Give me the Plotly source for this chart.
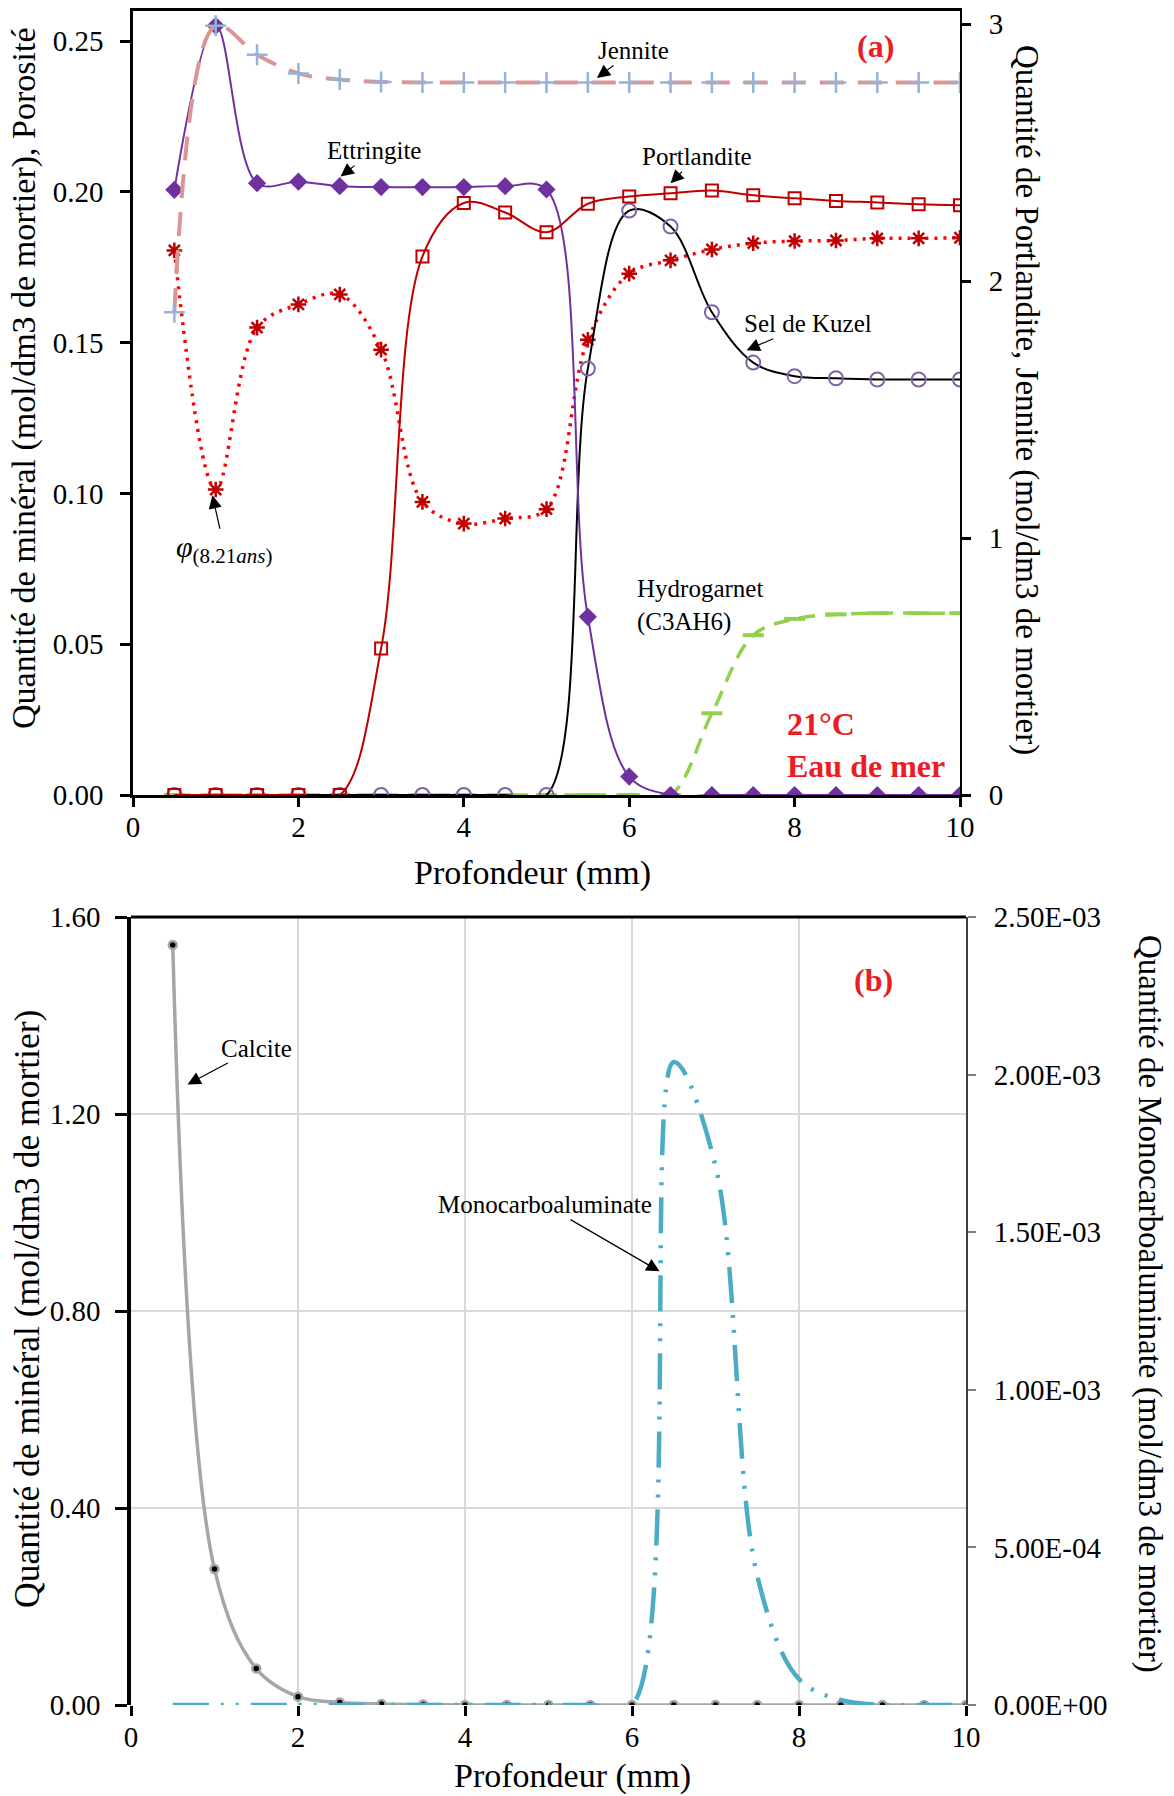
import plotly.graph_objects as go

# ---------------- data ----------------
depth = [0.5, 1.0, 1.5, 2.0, 2.5, 3.0, 3.5, 4.0, 4.5, 5.0,
         5.5, 6.0, 6.5, 7.0, 7.5, 8.0, 8.5, 9.0, 9.5, 10.0]

# panel (a) - left axis (mol/dm3 de mortier / porosité)
ettringite = [0.2007, 0.2551, 0.2029, 0.2034, 0.2019, 0.2016, 0.2016, 0.2016, 0.2019, 0.2008,
              0.0591, 0.0061, 0.0, 0.0, 0.0, 0.0, 0.0, 0.0, 0.0, 0.0]
porosite = [0.1806, 0.1013, 0.1550, 0.1627, 0.1660, 0.1477, 0.0972, 0.0900, 0.0917, 0.0948,
            0.1510, 0.1729, 0.1773, 0.1809, 0.1830, 0.1837, 0.1839, 0.1846, 0.1846, 0.1848]
kuzel = [0.0, 0.0, 0.0, 0.0, 0.0, 0.0, 0.0, 0.0, 0.0, 0.0,
         0.1414, 0.1938, 0.1885, 0.1601, 0.1434, 0.1389, 0.1382, 0.1378, 0.1378, 0.1378]
hydrogarnet = [0.0, 0.0, 0.0, 0.0, 0.0, 0.0, 0.0, 0.0, 0.0, 0.0,
               0.0, 0.0, 0.0, 0.0271, 0.0530, 0.0584, 0.0599, 0.0603, 0.0603, 0.0603]

# panel (a) - right axis (Portlandite, Jennite)
portlandite = [0.0, 0.0, 0.0, 0.0, 0.0, 0.570, 2.096, 2.304, 2.267, 2.190,
               2.301, 2.329, 2.342, 2.352, 2.334, 2.322, 2.312, 2.306, 2.299, 2.295]
jennite = [1.879, 2.994, 2.881, 2.808, 2.784, 2.775, 2.773, 2.773, 2.773, 2.773,
           2.773, 2.773, 2.773, 2.773, 2.773, 2.773, 2.773, 2.773, 2.773, 2.773]

# panel (b)
calcite = [1.543, 0.276, 0.074, 0.017, 0.005, 0.002, 0.001, 0.0, 0.0, 0.0,
           0.0, 0.0, 0.0, 0.0, 0.0, 0.0, 0.0, 0.0, 0.0, 0.0]
monocarbo = [0.0, 0.0, 0.0, 0.0, 0.0, 0.0, 0.0, 0.0, 0.0, 0.0,
             0.0, 0.0, 2.04e-3, 1.71e-3, 4.1e-4, 8.2e-5, 1.6e-5, 0.0, 0.0, 0.0]

x_ticks = [0, 2, 4, 6, 8, 10]
mono_tickvals = [0.0, 5.0e-4, 1.0e-3, 1.5e-3, 2.0e-3, 2.5e-3]
mono_ticktext = ["0.00E+00", "5.00E-04", "1.00E-03", "1.50E-03", "2.00E-03", "2.50E-03"]

# ---------------- figure ----------------
W, H = 1174, 1796
FONT = "Liberation Serif"
RED = "#EC1C24"

def px_x(p):
    return p / W

def px_y(p):
    return 1 - p / H

fig = go.Figure()

# ---- panel (a) left axis traces
fig.add_trace(go.Scatter(
    x=depth, y=hydrogarnet, xaxis="x", yaxis="y", mode="lines+markers", name="Hydrogarnet",
    line=dict(color="#92D050", width=3.5, dash="16px,10px", shape="spline"),
    marker=dict(symbol="line-ew-open", size=15, color="#92D050", line=dict(width=4, color="#92D050"))))
fig.add_trace(go.Scatter(
    x=depth, y=porosite, xaxis="x", yaxis="y", mode="lines+markers", name="Porosité",
    line=dict(color="#FF0000", width=3.5, dash="3px,6px", shape="spline"),
    marker=dict(symbol="asterisk-open", size=13, color="#C00000", line=dict(width=2.5, color="#C00000"))))
fig.add_trace(go.Scatter(
    x=depth, y=kuzel, xaxis="x", yaxis="y", mode="lines+markers", name="Sel de Kuzel",
    line=dict(color="black", width=2, shape="spline"),
    marker=dict(symbol="circle-open", size=14, color="#8064A2", line=dict(width=2, color="#8064A2"))))
fig.add_trace(go.Scatter(
    x=depth, y=ettringite, xaxis="x", yaxis="y", mode="lines+markers", name="Ettringite",
    line=dict(color="#7030A0", width=2, shape="spline"),
    marker=dict(symbol="diamond", size=14, color="#7030A0")))

# ---- panel (a) right axis traces
fig.add_trace(go.Scatter(
    x=depth, y=portlandite, xaxis="x", yaxis="y2", mode="lines+markers", name="Portlandite",
    line=dict(color="#C00000", width=2, shape="spline"),
    marker=dict(symbol="square-open", size=12, color="#C00000", line=dict(width=2, color="#C00000"))))
fig.add_trace(go.Scatter(
    x=depth, y=jennite, xaxis="x", yaxis="y2", mode="lines+markers", name="Jennite",
    line=dict(color="#D99694", width=4, dash="24px,14px", shape="spline"),
    marker=dict(symbol="cross-thin-open", size=15, color="#95B3D7", line=dict(width=2.5, color="#95B3D7"))))

# ---- panel (b)
fig.add_trace(go.Scatter(
    x=depth, y=calcite, xaxis="x2", yaxis="y3", mode="lines+markers", name="Calcite",
    line=dict(color="#A6A6A6", width=3.5, shape="spline"),
    marker=dict(symbol="circle", size=8, color="black", line=dict(width=2.5, color="#A6A6A6"))))
fig.add_trace(go.Scatter(
    x=depth, y=monocarbo, xaxis="x2", yaxis="y4", mode="lines", name="Monocarboaluminate",
    line=dict(color="#4BACC6", width=4.5, dash="36px,12px,3px,12px,3px,12px", shape="spline")))

tickfont = dict(family=FONT, size=29, color="black")

common = dict(automargin=False, zeroline=False, tickfont=tickfont)

fig.update_layout(
    width=W, height=H,
    margin=dict(l=0, r=0, t=0, b=0, autoexpand=False),
    paper_bgcolor="white", plot_bgcolor="rgba(0,0,0,0)",
    showlegend=False,
    font=dict(family=FONT, color="black"),
    xaxis=dict(domain=[px_x(133), px_x(960)], anchor="y", range=[0, 10], tickvals=x_ticks,
               showline=True, linecolor="black", linewidth=2.5, mirror=True,
               ticks="outside", ticklen=9, tickwidth=2.5, tickcolor="black",
               showgrid=False, ticklabelstandoff=-5, **common),
    yaxis=dict(domain=[px_y(795), px_y(11)], anchor="x", range=[0, 0.26], dtick=0.05, tickformat=".2f",
               showline=True, linecolor="black", linewidth=2.5,
               ticks="outside", ticklen=10, tickwidth=2.5, tickcolor="black",
               showgrid=False, ticklabelstandoff=11, **common),
    yaxis2=dict(overlaying="y", side="right", anchor="x", range=[0, 3.051], dtick=1,
                showline=True, linecolor="black", linewidth=2,
                ticks="outside", ticklen=9, tickwidth=2.5, tickcolor="black",
                showgrid=False, ticklabelstandoff=12, **common),
    xaxis2=dict(domain=[px_x(131), px_x(966)], anchor="y3", range=[0, 10], tickvals=x_ticks,
                showline=False, ticks="outside", ticklen=10, tickwidth=2.5, tickcolor="black",
                showgrid=True, gridcolor="#D9D9D9", gridwidth=1.5,
                ticklabelstandoff=-4, **common),
    yaxis3=dict(domain=[px_y(1705), px_y(917)], anchor="x2", range=[0, 1.6], dtick=0.4, tickformat=".2f",
                showline=True, linecolor="black", linewidth=3.5,
                ticks="outside", ticklen=12, tickwidth=2.5, tickcolor="black",
                showgrid=True, gridcolor="#D9D9D9", gridwidth=1.5,
                ticklabelstandoff=9, **common),
    yaxis4=dict(overlaying="y3", side="right", anchor="x2", range=[0, 2.5e-3],
                tickvals=mono_tickvals, ticktext=mono_ticktext,
                showline=True, linecolor="#404040", linewidth=2,
                ticks="outside", ticklen=8, tickwidth=1.5, tickcolor="#808080",
                showgrid=False, ticklabelstandoff=12, **common),
)

# top frame of panel (b)
fig.add_shape(type="line", xref="x2 domain", yref="y3 domain", x0=0, x1=1, y0=1, y1=1,
              line=dict(color="black", width=3))

lab_font = dict(family=FONT, size=25, color="black")
red_font = dict(family=FONT, size=32, color=RED)

def title(text, px, py, angle=0, size=34):
    return dict(text=text, xref="paper", yref="paper", x=px_x(px), y=px_y(py),
                xanchor="center", yanchor="middle", textangle=angle, showarrow=False,
                font=dict(family=FONT, size=size, color="black"))

ann = []
ann.append(title("Quantité de minéral (mol/dm3 de mortier), Porosité", 24, 378, -90, 34))
ann.append(title("Quantité de Portlandite, Jennite (mol/dm3 de mortier)", 1027, 400, 90, 33))
ann.append(title("Profondeur (mm)", 532, 873))
ann.append(title("Quantité de minéral (mol/dm3 de mortier)", 27, 1309, -90, 35.5))
ann.append(title("Quantité de Monocarboaluminate (mol/dm3 de mortier)", 1150, 1304, 90, 33))
ann.append(title("Profondeur (mm)", 572, 1776))

arrow = dict(showarrow=True, arrowhead=2, arrowsize=2.2, arrowwidth=1.2, arrowcolor="black")

def lab(text, x, y, hx, hy, xr="x", yr="y", **kw):
    d = dict(text=text, x=hx, y=hy, ax=x, ay=y, xref=xr, yref=yr, axref=xr, ayref=yr, font=lab_font)
    d.update(arrow)
    d.update(kw)
    return d

ann.append(lab("Jennite", 6.05, 0.2469, 5.61, 0.2378))
ann.append(lab("Ettringite", 2.91, 0.2137, 2.51, 0.2051))
ann.append(lab("Portlandite", 6.82, 0.2117, 6.50, 0.2029))
ann.append(lab("Sel de Kuzel", 8.16, 0.1563, 7.42, 0.1475))
ann.append(lab("Hydrogarnet<br>(C3AH6)", 6.86, 0.0628, 7.49, 0.0547, align="left"))
ann.append(lab("<i>φ</i><sub>(8.21<i>ans</i>)</sub>", 1.106, 0.0815, 0.96, 0.0994,
               font=dict(family=FONT, size=30, color="black")))
ann.append(dict(text="<b>(a)</b>", x=8.98, y=0.2485, xref="x", yref="y", showarrow=False,
                xanchor="center", yanchor="middle", font=red_font))
ann.append(dict(text="<b>21°C<br>Eau de mer</b>", x=8.86, y=0.0166, xref="x", yref="y", showarrow=False,
                xanchor="center", yanchor="middle", align="left", font=red_font))

ann.append(lab("Calcite", 1.497, 1.334, 0.677, 1.260, xr="x2", yr="y3"))
ann.append(lab("Monocarboaluminate", 4.954, 1.016, 6.33, 0.8805, xr="x2", yr="y3"))
ann.append(dict(text="<b>(b)</b>", x=8.897, y=1.473, xref="x2", yref="y3", showarrow=False,
                xanchor="center", yanchor="middle", font=red_font))

fig.update_layout(annotations=ann)

fig.write_html("out.html", config={"displayModeBar": False},
               post_script="document.body.style.margin='0px';")
